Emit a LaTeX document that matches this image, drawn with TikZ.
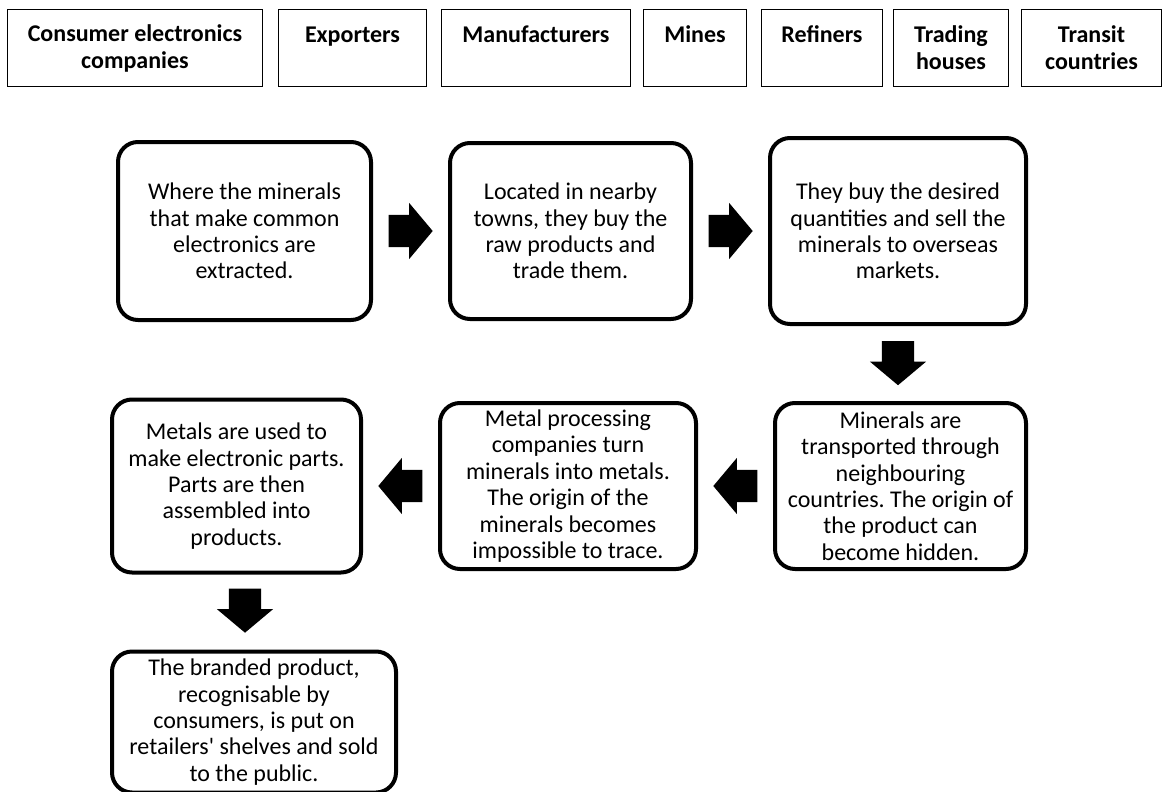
\documentclass[tikz,border=0pt]{standalone}
\usepackage{fontspec}
\setmainfont{Carlito}
\usetikzlibrary{positioning,calc,shapes.arrows}
\frenchspacing

\begin{document}
\begin{tikzpicture}[x=1pt, y=1pt,
    role/.style = {draw, line width=1.2pt, minimum height=76.8pt, inner sep=2pt,
      align=center, font=\fontsize{24}{27}\selectfont\bfseries},
    stage/.style = {draw, line width=4pt, rounded corners=20pt, inner sep=3pt,
      align=center, font=\fontsize{24}{26.4}\selectfont},
    flow/.style = {single arrow, fill=black, draw=none, inner xsep=0pt, inner ysep=16pt,
      minimum height=44pt, single arrow head extend=12pt, single arrow tip angle=100, anchor=tail}]
  \useasboundingbox (0,0) rectangle (1164,-792);

  \node (consco) [role, minimum width=254.8pt, anchor=north west] at (7,-9) {Consumer electronics\\companies};
  \node (expo) [role, minimum width=147.8pt, right=15pt of consco] {Exporters\\~};
  \node (manu) [role, minimum width=188.8pt, right=14pt of expo] {Manufacturers\\~};
  \node (mine) [role, minimum width=102.8pt, right=12pt of manu] {Mines\\~};
  \node (refi) [role, minimum width=120.8pt, right=14pt of mine] {Refiners\\~};
  \node (trad) [role, minimum width=114.8pt, right=10pt of refi] {Trading\\houses};
  \node (tran) [role, minimum width=139.8pt, right=12pt of trad] {Transit\\countries};

  \node (minedesc) [stage, minimum width=253pt, minimum height=178pt, anchor=north west] at (116,-140)
    {Where the minerals\\that make common\\electronics are\\extracted.};
  \node (expdesc) [stage, minimum width=241pt, minimum height=176pt, right=75pt of minedesc]
    {Located in nearby\\towns, they buy the\\raw products and\\trade them.};
  \node (tradedesc) [stage, minimum width=256pt, minimum height=186pt, right=75pt of expdesc]
    {They buy the desired\\quantities and sell the\\minerals to overseas\\markets.};
  \node (transdesc) [stage, minimum width=251pt, minimum height=166pt, below=75pt of tradedesc, xshift=2.5pt]
    {Minerals are\\transported through\\neighbouring\\countries. The origin of\\the product can\\become hidden.};
  \node (refdesc) [stage, minimum width=256pt, minimum height=166pt, left=75pt of transdesc]
    {Metal processing\\companies turn\\minerals into metals.\\The origin of the\\minerals becomes\\impossible to trace.};
  \node (mandesc) [stage, minimum width=249pt, minimum height=173pt, left=75pt of refdesc]
    {Metals are used to\\make electronic parts.\\Parts are then\\assembled into\\products.};
  \node (consdesc) [stage, minimum width=284pt, minimum height=141pt, below right=75pt and 0pt of mandesc.south west]
    {The branded product,\\recognisable by\\consumers, is put on\\retailers\textquotesingle{} shelves and sold\\to the public.};

  \node (f1) [flow] at ($(minedesc.east)!15.5pt!(expdesc.west)$) {};
  \node (f2) [flow] at ($(expdesc.east)!15.5pt!(tradedesc.west)$) {};
  \node (f3) [flow, rotate=-90] at ($(tradedesc.south)+(0,-15)$) {};
  \node (f4) [flow, rotate=180] at ($(transdesc.west)!15.5pt!(refdesc.east)$) {};
  \node (f5) [flow, rotate=180] at ($(refdesc.west)!15.5pt!(mandesc.east)$) {};
  \node (f6) [flow, rotate=-90] at ($(mandesc.south)+(8.5,-14)$) {};
\end{tikzpicture}
\end{document}
